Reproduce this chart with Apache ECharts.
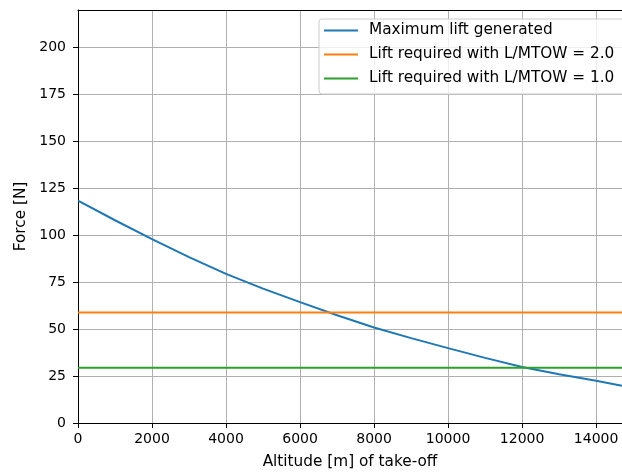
<!DOCTYPE html>
<html>
<head>
<meta charset="utf-8">
<script src="https://cdn.jsdelivr.net/npm/echarts@6/dist/echarts.min.js"></script>
<style>
  html, body { margin: 0; padding: 0; background: #fff; }
  #chart { width: 622px; height: 472px; }
</style>
</head>
<body>
<div id="chart"></div>
<script>
// Altitude of take-off [m]
const altitudes = [0, 1000, 2000, 3000, 4000, 5000, 6000, 7000, 8000, 9000, 10000, 11000, 12000, 13000, 14000, 14700];
// Maximum lift generated [N] at each altitude
const maxLift = [118.4, 108.0, 97.9, 88.4, 79.4, 71.6, 64.4, 57.4, 50.9, 45.2, 39.9, 34.7, 29.8, 26.0, 22.5, 19.8];
// Required lift levels [N]
const liftRequired20 = 58.9;
const liftRequired10 = 29.45;
const altitudeRange = [0, 14700];
const xTickStep = 2000;
const yTickStep = 25;

const seriesNames = [
  'Maximum lift generated',
  'Lift required with L/MTOW = 2.0',
  'Lift required with L/MTOW = 1.0'
];

const font = 'DejaVu Sans';
const labelSize = 15.3;
const tickSize = 14;
const chart = echarts.init(document.getElementById('chart'));

const lineSeries = (name, data, color) => ({
  name: name,
  type: 'line',
  data: data,
  symbol: 'none',
  showSymbol: false,
  lineStyle: { color: color, width: 2 },
  itemStyle: { color: color },
  animation: false
});

chart.setOption({
  animation: false,
  textStyle: { fontFamily: font },
  grid: { left: 78, top: 10, right: 0, bottom: 49, outerBoundsMode: 'none', containLabel: false },
  legend: {
    data: seriesNames,
    orient: 'vertical',
    left: 319,
    top: 19,
    padding: [4, 20, 8, 4],
    itemWidth: 34,
    itemHeight: 14,
    itemGap: 9,
    itemStyle: { opacity: 0 },
    lineStyle: { width: 2 },
    backgroundColor: 'rgba(255,255,255,0.8)',
    borderColor: '#cccccc',
    borderWidth: 1,
    borderRadius: 3,
    textStyle: { fontFamily: font, fontSize: labelSize, lineHeight: 14, color: '#000', padding: [0, 0, 0, 6] }
  },
  xAxis: [{
    type: 'value',
    min: altitudeRange[0],
    max: altitudeRange[1],
    interval: xTickStep,
    name: 'Altitude [m] of take-off',
    nameLocation: 'middle',
    nameGap: 32,
    nameTextStyle: { fontFamily: font, fontSize: labelSize, color: '#000' },
    axisLine: { onZero: false, lineStyle: { color: '#000', width: 1 } },
    axisTick: { show: true, length: 5, lineStyle: { color: '#000' } },
    axisLabel: {
      fontFamily: font, fontSize: tickSize, color: '#000', margin: 9,
      showMaxLabel: false,
      formatter: v => (v % xTickStep === 0 ? String(v) : '')
    },
    splitLine: { show: true, lineStyle: { color: '#b0b0b0', width: 1 } }
  }, {
    type: 'value',
    position: 'top',
    min: altitudeRange[0],
    max: altitudeRange[1],
    axisLine: { show: true, onZero: false, lineStyle: { color: '#000', width: 1 } },
    axisTick: { show: false },
    axisLabel: { show: false },
    splitLine: { show: false }
  }],
  yAxis: {
    type: 'value',
    min: 0,
    max: 220,
    interval: yTickStep,
    name: 'Force [N]',
    nameLocation: 'middle',
    nameGap: 48,
    nameRotate: 90,
    nameTextStyle: { fontFamily: font, fontSize: labelSize, color: '#000' },
    axisLine: { show: true, onZero: false, lineStyle: { color: '#000', width: 1 } },
    axisTick: { show: true, length: 5, lineStyle: { color: '#000' } },
    axisLabel: {
      fontFamily: font, fontSize: tickSize, color: '#000', margin: 12,
      showMaxLabel: false,
      formatter: v => (v % yTickStep === 0 ? String(v) : '')
    },
    splitLine: { show: true, lineStyle: { color: '#b0b0b0', width: 1 } }
  },
  series: [
    lineSeries(seriesNames[0], altitudes.map((a, i) => [a, maxLift[i]]), '#1f77b4'),
    lineSeries(seriesNames[1], altitudeRange.map(a => [a, liftRequired20]), '#ff7f0e'),
    lineSeries(seriesNames[2], altitudeRange.map(a => [a, liftRequired10]), '#2ca02c')
  ]
});
</script>
</body>
</html>
